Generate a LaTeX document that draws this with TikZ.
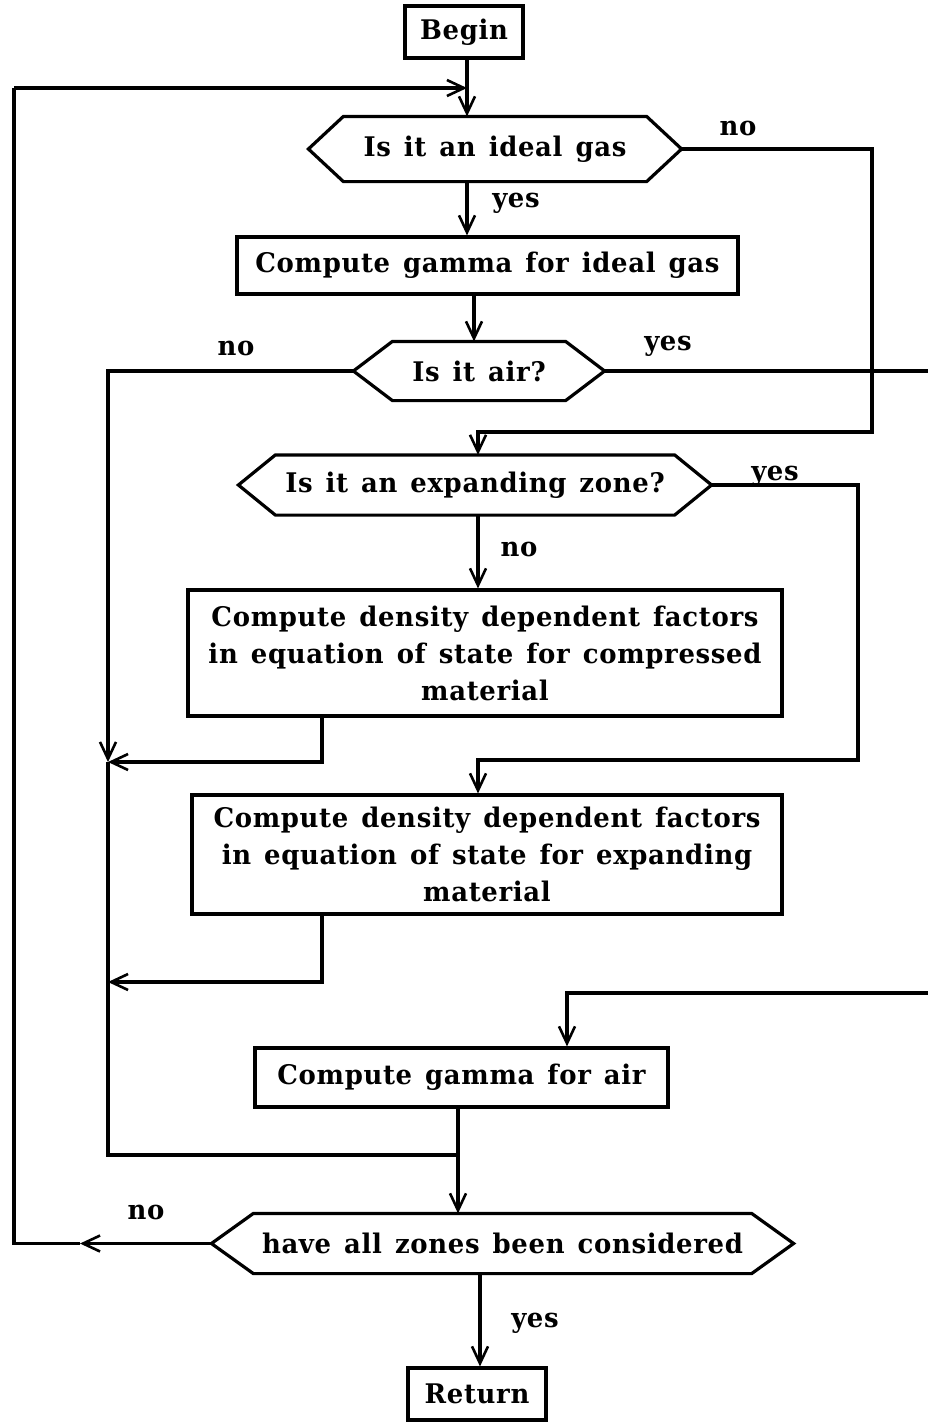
\documentclass[tikz,border=0pt]{standalone}
\usepackage{fontspec}
\setmainfont{DejaVu Serif}[FakeStretch=0.96,LetterSpace=2.5]
\usetikzlibrary{arrows.meta}
\newcommand\myfont{\fontsize{27}{37}\selectfont\bfseries\spaceskip 13pt plus 2pt minus 2pt\relax}
\begin{document}
\begin{tikzpicture}[x=1pt,y=-1pt,line width=3.2pt,
  txt/.style={font=\myfont},
  box/.style={txt,draw,rectangle,inner sep=0pt,align=center},
  hexa/.style={txt,rectangle,inner sep=0pt,align=center},
  arr/.style={-{Straight Barb[length=17pt,width=16pt,line width=2.6pt]}},
  lbl/.style={txt}]
\fill[white] (0,0) rectangle (928,1422);
\useasboundingbox (0,0) rectangle (928,1422);

% nodes
\node[box,minimum width=118pt,minimum height=52pt] (begin) at (464,32) {Begin};
\node[hexa,minimum width=370pt,minimum height=62pt] (ideal) at (495,149) {Is it an ideal gas};
\node[box,minimum width=501pt,minimum height=57pt] (cgi) at (487.5,265.5) {Compute gamma for ideal gas};
\node[hexa,minimum width=248pt,minimum height=56pt] (air) at (479,371) {Is it air?};
\node[hexa,minimum width=470pt,minimum height=57pt] (exp) at (475,485) {Is it an expanding zone?};
\node[box,minimum width=594pt,minimum height=126pt] (comp) at (485,653) {Compute density dependent factors\\in equation of state for compressed\\material};
\node[box,minimum width=590pt,minimum height=119pt] (expm) at (487,854.5) {Compute density dependent factors\\in equation of state for expanding\\material};
\node[box,minimum width=413pt,minimum height=59pt] (cair) at (461.5,1077.5) {Compute gamma for air};
\node[hexa,minimum width=579pt,minimum height=57pt] (all) at (502.5,1243.5) {have all zones been considered};
\node[box,minimum width=138pt,minimum height=52pt] (ret) at (477,1394) {Return};

% hexagon outlines
\foreach \n/\d in {ideal/35,air/39,exp/37,all/42}
  \draw (\n.west) -- ([xshift=\d pt]\n.north west) -- ([xshift=-\d pt]\n.north east)
        -- (\n.east) -- ([xshift=-\d pt]\n.south east) -- ([xshift=\d pt]\n.south west) -- cycle;

% labels
\node[lbl] (l1) at (738,128) {no};
\node[lbl] (l2) at (516,203) {yes};
\node[lbl] (l3) at (236,348) {no};
\node[lbl] (l4) at (668,346) {yes};
\node[lbl] (l5) at (775,476) {yes};
\node[lbl] (l6) at (519,549) {no};
\node[lbl] (l7) at (146,1212) {no};
\node[lbl] (l8) at (535,1323) {yes};

% helper coordinates
\coordinate (vA) at (467,0);
\coordinate (vB) at (474,0);
\coordinate (vC) at (478,0);
\coordinate (vD) at (458,0);
\coordinate (vE) at (480,0);
\coordinate (vF) at (567,0);
\coordinate (vG) at (322,0);
\coordinate (k80) at (80,0);
\coordinate (edgeR) at (928,0);
\coordinate (nR1) at (872,432);
\coordinate (nR2) at (858,760);
\coordinate (inR) at (928,993);
\coordinate (j1) at (108,762);
\coordinate (j2) at (108,982);
\coordinate (j3) at (108,1155);
\coordinate (lp) at (14,88);

% connectors
\draw[arr] (begin.south -| vA) -- (ideal.north -| vA);
\draw[arr] (ideal.south -| vA) -- (cgi.north -| vA);
\draw[arr] (cgi.south -| vB) -- (air.north -| vB);
\draw[arr] (ideal.east) -| (nR1) -- (nR1 -| vC) -- (exp.north -| vC);
\draw (air.east) -- (air.east -| edgeR);
\draw[arr] (air.west) -| (j1);
\draw (j1) -- (j3) -- (j3 -| vD);
\draw[arr] (exp.south -| vC) -- (comp.north -| vC);
\draw[arr] (exp.east) -| (nR2) -- (nR2 -| vC) -- (expm.north -| vC);
\draw[arr] (comp.south -| vG) |- (j1);
\draw[arr] (expm.south -| vG) |- (j2);
\draw[arr] (inR) -| (cair.north -| vF);
\draw[arr] (cair.south -| vD) -- (all.north -| vD);
\draw[arr] (all.south -| vE) -- (ret.north -| vE);
\draw[arr] (all.west) -- (all.west -| k80);
\draw (all.west -| k80) -| (lp);
\draw[arr] (lp) -- (lp -| vA);
\end{tikzpicture}
\end{document}
